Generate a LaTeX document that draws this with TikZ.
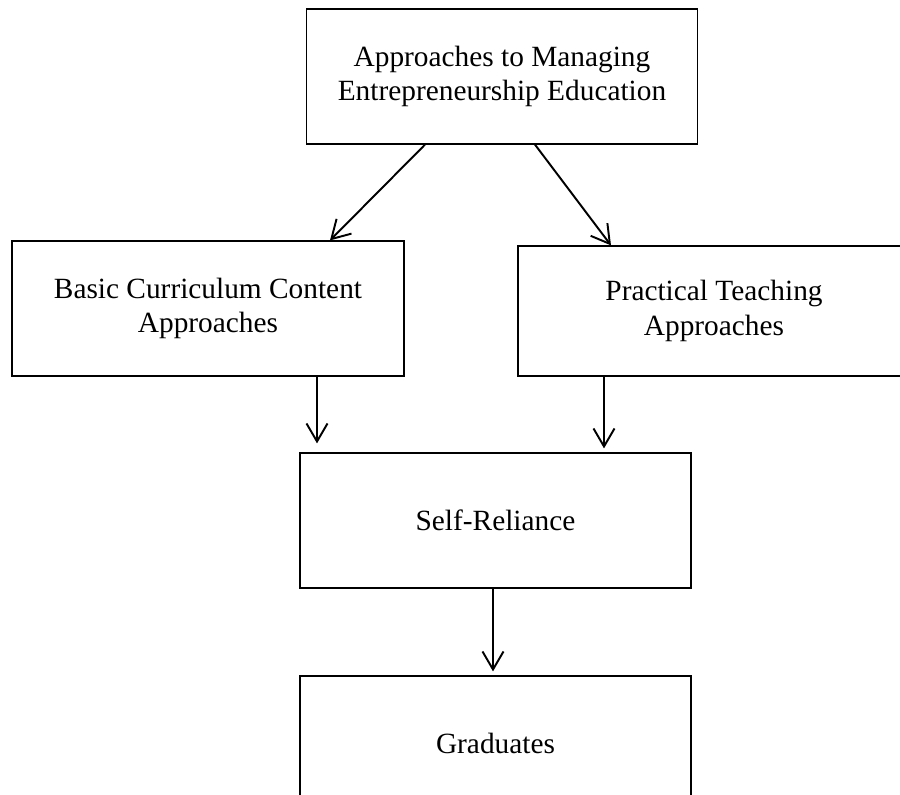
\documentclass[tikz,border=0pt]{standalone}
\usepackage{fontspec}
\setmainfont{Liberation Serif}
\usepackage{tikz}
\usetikzlibrary{arrows.meta, positioning, calc}

\begin{document}
\begin{tikzpicture}[
    box/.style={rectangle, draw=black, line width=0.7pt, minimum width=#1, minimum height=2.7cm, align=center, font=\fontsize{16.7}{19.7}\selectfont},
    arr/.style={-{Straight Barb[length=3.6mm, width=4.2mm, line width=1.1pt]}, line width=1.1pt}
]
\useasboundingbox (0,0) rectangle (18,-15.9);

% Top box
\node[box=7.82cm] (approaches) at (10.04,-1.53) {Approaches to Managing\\Entrepreneurship Education};

% Second row
\node[box=7.84cm] (basic) at (4.16,-6.17) {Basic Curriculum Content\\Approaches};
\node[box=7.84cm, minimum height=2.6cm] (practical) at (14.28,-6.22) {Practical Teaching\\Approaches};

% Self-reliance
\node[box=7.82cm] (reliance) at (9.91,-10.41) {Self-Reliance};

% Graduates
\node[box=7.82cm] (graduates) at (9.91,-14.87) {Graduates};

% Arrows
\draw[arr] ([xshift=-1.54cm]approaches.south) -- ([xshift=2.44cm]basic.north);
\draw[arr] ([xshift=0.66cm]approaches.south) -- ([xshift=-2.06cm]practical.north);
\draw[arr] ([xshift=2.18cm]basic.south) -- ([xshift=-3.57cm, yshift=0.18cm]reliance.north);
\draw[arr] ([xshift=-2.2cm]practical.south) -- ([xshift=2.17cm, yshift=0.08cm]reliance.north);
\draw[arr] ([xshift=-0.05cm]reliance.south) -- ([xshift=-0.05cm, yshift=0.08cm]graduates.north);

\end{tikzpicture}
\end{document}
